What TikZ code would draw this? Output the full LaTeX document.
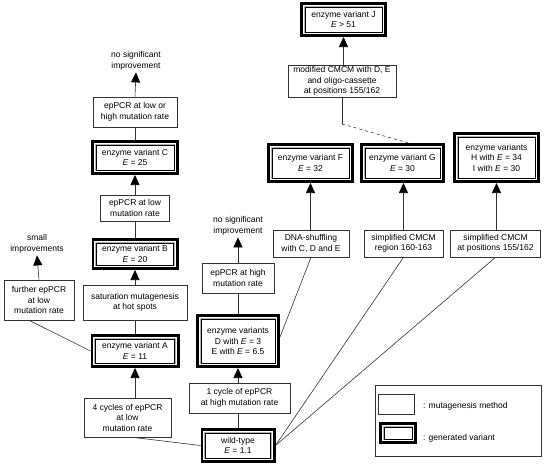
\documentclass[tikz,border=0pt]{standalone}
\usepackage{fontspec}
\setmainfont{Liberation Sans}
\usetikzlibrary{arrows.meta}
\tikzset{
  method/.style={draw=black!80, line width=0.6pt, fill=white, align=center, inner sep=0pt},
  variant/.style={draw=gray!60, line width=1.2pt, fill=white, align=center, inner sep=0pt, outer sep=4.2pt},
  lbl/.style={align=center, inner sep=2pt},
  conn/.style={draw=black!80, line width=0.6pt},
  arr/.style={conn, -{Triangle[width=9pt,length=10pt,color=black]}}
}
\newcommand\VarBox[5]{%
  \node[variant, minimum width={(#3-8.4)*1pt}, minimum height={(#4-8.4)*1pt}] (#1) at (#2) {#5};
  \draw[black, line width=2.6pt] ([shift={(1.3pt,-1.3pt)}]#1.north west) rectangle ([shift={(-1.3pt,1.3pt)}]#1.south east);
  \draw[black, line width=0.4pt] ([shift={(5pt,-5pt)}]#1.north west) rectangle ([shift={(-5pt,5pt)}]#1.south east);
}
\begin{document}
\begin{tikzpicture}[x=1pt,y=-1pt, font=\fontsize{8.5}{10.5}\selectfont]
\useasboundingbox (0,0) rectangle (544,466);

% legend frame
\node[method, minimum width=166pt, minimum height=71pt] (legend) at (458,420.5) {};
\node[method, minimum width=36pt, minimum height=20pt] (legm) at (396,404) {};
\VarBox{legv}{398,433}{38}{22}{}
\node[anchor=west, inner sep=0pt] (lt1) at (423,406) {: mutagenesis method};
\node[anchor=west, inner sep=0pt] (lt2) at (423,438) {: generated variant};

% variants
\VarBox{J}{343.5,19.5}{87}{35}{enzyme variant J\\\textit{E} > 51}
\VarBox{C}{135,157.5}{88}{35}{enzyme variant C\\\textit{E} = 25}
\VarBox{B}{135,254}{87}{32}{enzyme variant B\\\textit{E} = 20}
\VarBox{A}{135,351}{89}{34}{enzyme variant A\\\textit{E} = 11}
\VarBox{DE}{238,341}{84}{54}{enzyme variants\\D with \textit{E} = 3\\E with \textit{E} = 6.5}
\VarBox{WT}{238,445.5}{75}{35}{wild-type\\\textit{E} = 1.1}
\VarBox{F}{310.5,163}{87}{40}{enzyme variant F\\\textit{E} = 32}
\VarBox{G}{402.5,163}{85}{40}{enzyme variant G\\\textit{E} = 30}
\VarBox{HI}{496.5,157.5}{87}{51}{enzyme variants\\H with \textit{E} = 34\\I with \textit{E} = 30}

% methods
\node[method, minimum width=84pt, minimum height=30pt] (m1) at (135,112) {epPCR at low or\\high mutation rate};
\node[method, minimum width=69pt, minimum height=26pt] (m2) at (135,208) {epPCR at low\\mutation rate};
\node[method, minimum width=104pt, minimum height=35pt] (sat) at (135,302.5) {saturation mutagenesis\\at hot spots};
\node[method, minimum width=70pt, minimum height=40pt] (fur) at (39,300) {further epPCR\\at low\\mutation rate};
\node[method, minimum width=87pt, minimum height=39pt] (c4) at (127.5,417.5) {4 cycles of epPCR\\at low\\mutation rate};
\node[method, minimum width=101pt, minimum height=30pt] (c1) at (239.5,398) {1 cycle of epPCR\\at high mutation rate};
\node[method, minimum width=72pt, minimum height=30pt] (hi) at (238,278) {epPCR at high\\mutation rate};
\node[method, minimum width=76pt, minimum height=27pt] (dna) at (311,243.5) {DNA-shuffling\\with C, D and E};
\node[method, minimum width=79pt, minimum height=27pt] (reg) at (403.5,243.5) {simplified CMCM\\region 160-163};
\node[method, minimum width=90pt, minimum height=27pt] (pos) at (495.5,243.5) {simplified CMCM\\at positions 155/162};
\node[method, minimum width=108pt, minimum height=32pt] (mod) at (342,81) {modified CMCM with D, E\\and oligo-cassette\\at positions 155/162};

% free texts
\node[lbl] (nsi1) at (136,61) {no significant\\improvement};
\node[lbl] (nsi2) at (238,226) {no significant\\improvement};
\node[lbl] (small) at (37,244) {small\\improvements};

% connectors left column
\draw[arr] (m1.north) -- (nsi1.south);
\draw[conn] (C.north) -- (m1.south);
\draw[arr] (m2.north) -- (C.south);
\draw[conn] (B.north) -- (m2.south);
\draw[arr] (sat.north) -- (B.south);
\draw[conn] (A.north) -- (sat.south);
\draw[arr] (A.south |- c4.north) -- (A.south);
\draw[conn] ([xshift=-10pt]fur.south) -- (A.west);
\draw[arr] (fur.north) -- (small.south);
\draw[conn] ([xshift=5pt]c4.south) -- (WT.west);

% middle column
\draw[conn] (WT.north) -- (WT.north |- c1.south);
\draw[arr] (DE.south |- c1.north) -- (DE.south);
\draw[conn] (DE.north) -- (hi.south);
\draw[arr] (hi.north) -- (nsi2.south);

% right side
\draw[conn] (dna.south) -- ([yshift=4pt]DE.east);
\draw[conn] (reg.south) -- (WT.east);
\draw[conn] (pos.south) -- (WT.east);
\draw[arr] (F.south |- dna.north) -- (F.south);
\draw[arr] (reg.north) -- (reg.north |- G.south);
\draw[arr] (HI.south |- pos.north) -- (HI.south);
\draw[arr] (J.south |- mod.north) -- (J.south);
\coordinate (bend) at (342,124);
\draw[conn] (mod.south) -- (bend);
\draw[conn, dashed] (bend) -- ([xshift=6pt]G.north);
\end{tikzpicture}
\end{document}
